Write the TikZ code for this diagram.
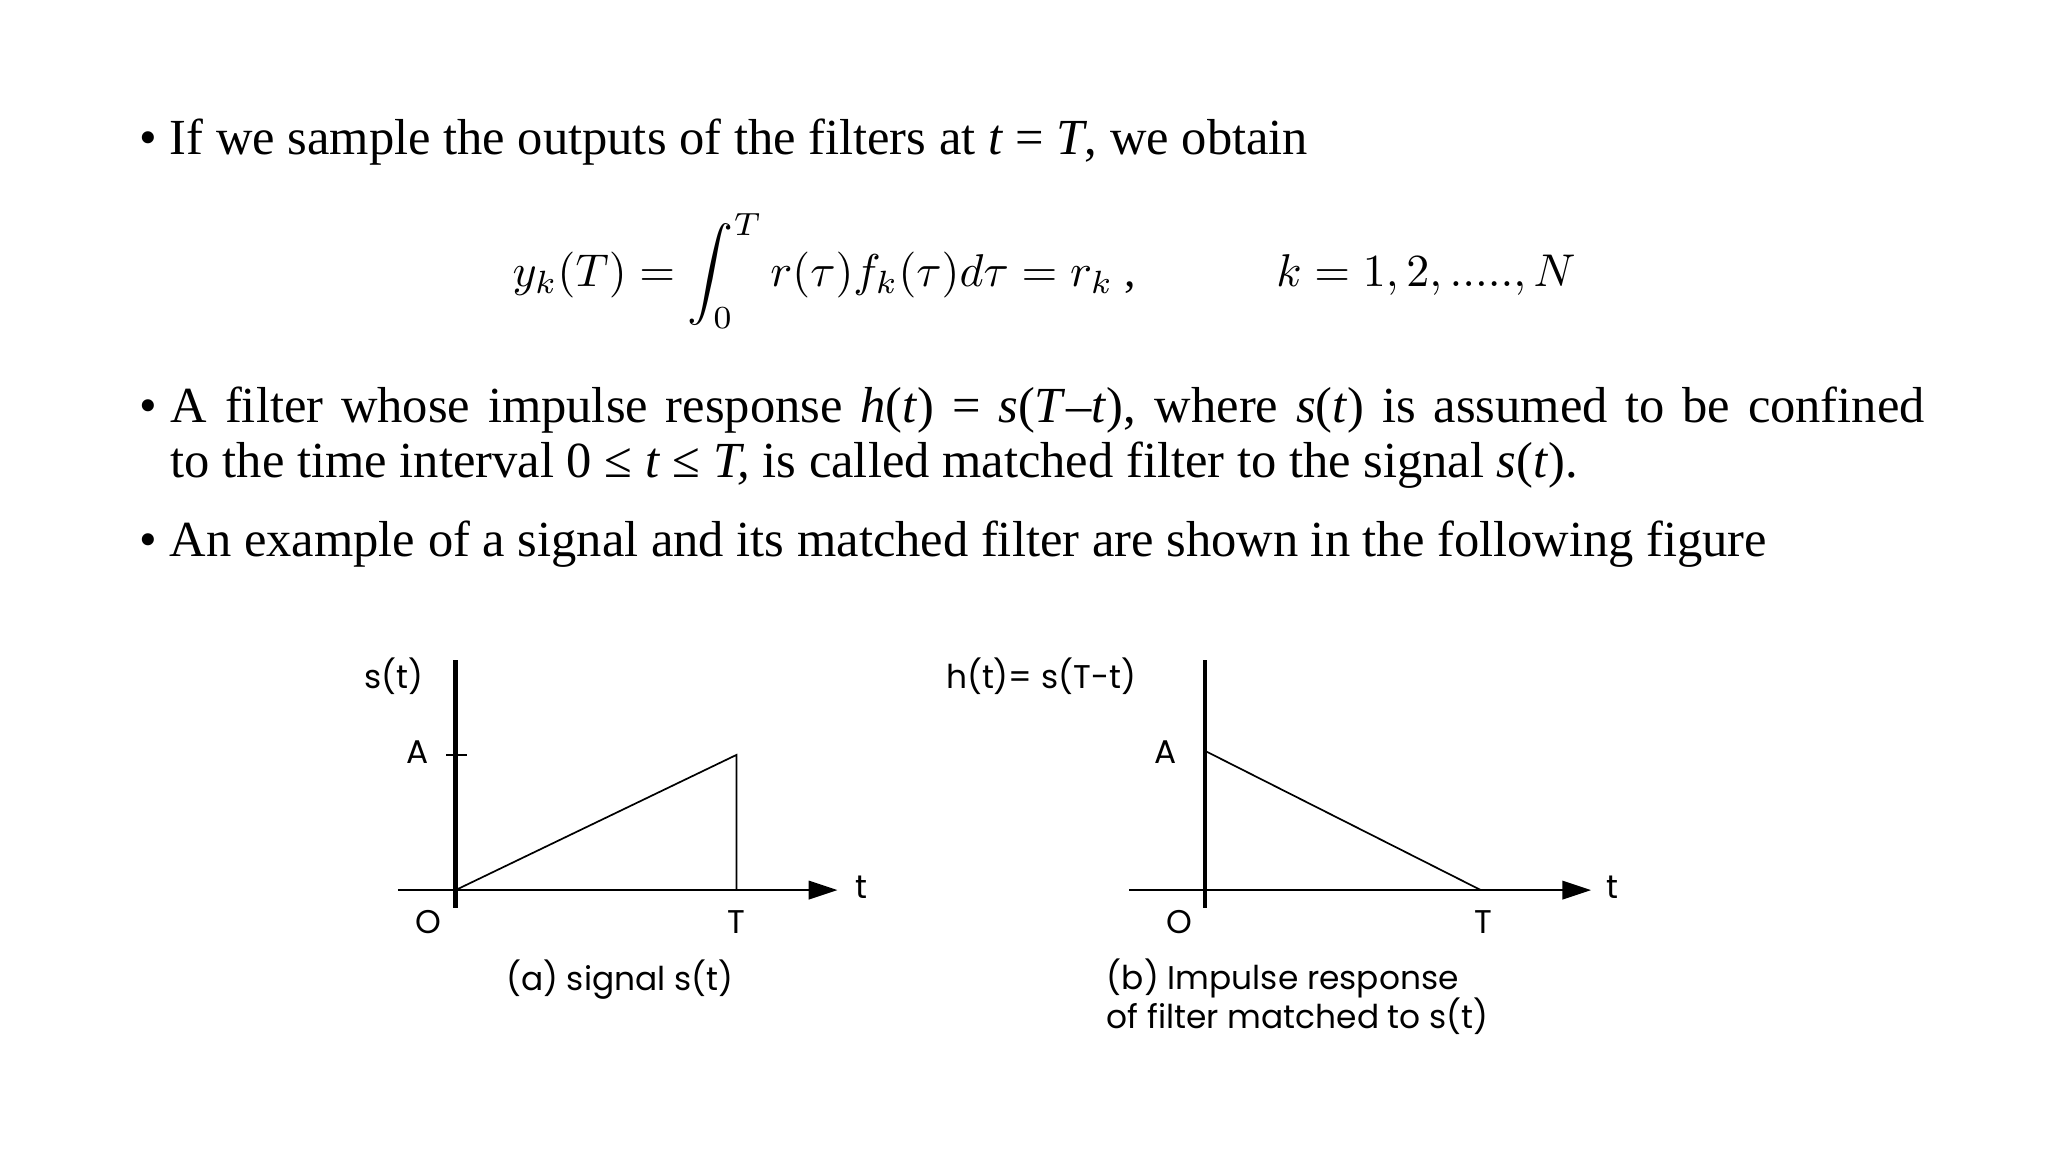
\documentclass[tikz,border=0pt]{standalone}
\usepackage{fontspec}
\setmainfont{Liberation Serif}
\newfontfamily\figfont{Poppins}
\usepackage{graphicx}
\usetikzlibrary{arrows.meta}
\begin{document}
\begin{tikzpicture}[x=1pt,y=-1pt,
  body/.style={anchor=base west,inner sep=0,font=\fontsize{38.5}{42}\selectfont},
  lab/.style={inner sep=0,font=\figfont\fontsize{25}{30}\selectfont},
  vax/.style={line width=3.5pt},
  hax/.style={line width=2pt,-{Triangle[length=22pt,width=14pt]}},
  sig/.style={line width=1.3pt}]
\useasboundingbox (0,0) rectangle (1560,877.5);
\node[body] (b1) at (106,118) {\textbullet\ If we sample the outputs of the filters at \textit{t} = \textit{T}, we obtain};
\node[inner sep=0,anchor=base] (eq) at (628,218) {\scalebox{3.5}{$\displaystyle y_k(T)=\int_0^T r(\tau)f_k(\tau)d\tau=r_k$ ,}};
\node[inner sep=0,anchor=base west] (eq2) at (972,218) {\scalebox{3.5}{$k=1,2,.....,N$}};
\node[body] (b2) at (106,322) {\textbullet};
\node[body,text width=1336pt,align=justify] (b2t) at (130,322) {A filter whose impulse response \textit{h}(\textit{t}) = \textit{s}(\textit{T}–\textit{t}), where \textit{s}(\textit{t}) is assumed to be confined\linebreak to the time interval 0 ≤ \textit{t} ≤ \textit{T,} is called matched filter to the signal \textit{s}(\textit{t}).};
\node[body] (b3) at (106,424) {\textbullet\ An example of a signal and its matched filter are shown in the following figure};
% (a)
\coordinate (ao) at (347,678);
\coordinate (atop) at (347,503);
\coordinate (abot) at (347,692);
\coordinate (aleft) at (303,678);
\coordinate (aright) at (638,678);
\coordinate (ap) at (561,575);
\coordinate (aT) at (561,678);
\draw[vax] (atop) -- (abot);
\draw[hax] (aleft) -- (aright);
\draw[sig] (ao) -- (ap) -- (aT);
\coordinate (at1) at (340,575); \coordinate (at2) at (356,575);
\draw[line width=1.3pt] (at1) -- (at2);
\node[lab] (ast) at (300,515) {s(t)};
\node[lab] (aA) at (318,573) {A};
\node[lab] (aO) at (326,702) {O};
\node[lab] (aTl) at (561,702) {T};
\node[lab] (atl) at (656,676) {t};
\node[lab] (acap) at (472,746) {(a) signal s(t)};
% (b)
\coordinate (btop) at (918,503);
\coordinate (bbot) at (918,692);
\coordinate (bleft) at (860,678);
\coordinate (bright) at (1212,678);
\coordinate (bp) at (918,572);
\coordinate (bT) at (1128,678);
\draw[vax] (btop) -- (bbot);
\draw[hax] (bleft) -- (bright);
\draw[sig] (bp) -- (bT);
\node[lab] (bht) at (793,515) {h(t)= s(T-t)};
\node[lab] (bA) at (888,573) {A};
\node[lab] (bO) at (898,702) {O};
\node[lab] (bTl) at (1130,702) {T};
\node[lab] (btl) at (1228,676) {t};
\node[lab,anchor=north west,align=left] (bcap) at (843,730) {(b) Impulse response\\of filter matched to s(t)};
\end{tikzpicture}
\end{document}
